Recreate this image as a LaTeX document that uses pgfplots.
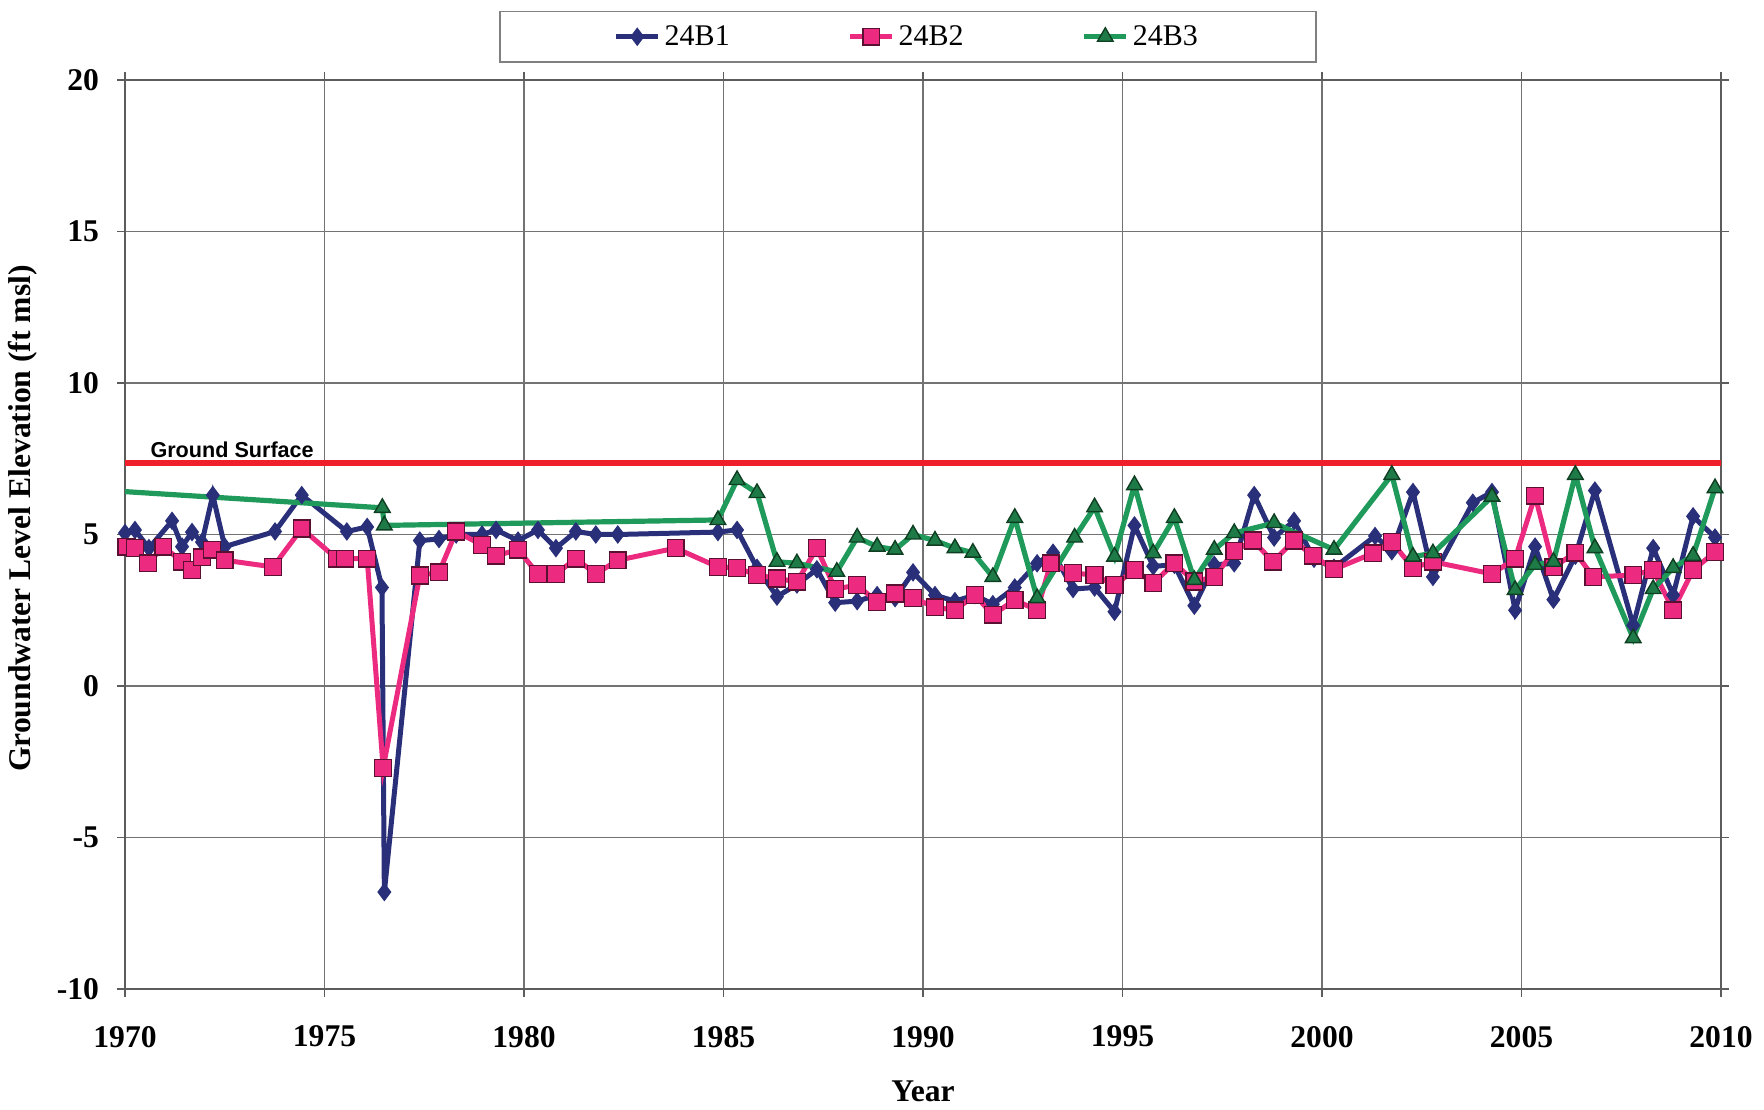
\documentclass[border=0pt]{standalone}
\usepackage{fontspec}
\setmainfont{Liberation Serif}
\newfontfamily\arialfont{Liberation Sans}
\usepackage{pgfplots}
\pgfplotsset{compat=1.18}
\definecolor{navyc}{HTML}{2A2F7A}
\definecolor{pinkc}{HTML}{EC2A7F}
\definecolor{pinkd}{HTML}{5A1030}
\definecolor{greenc}{HTML}{1F9A5A}
\definecolor{greenf}{HTML}{1E7A46}
\definecolor{greend}{HTML}{0F3F22}
\definecolor{gridc}{RGB}{115,115,115}
\definecolor{redc}{HTML}{F01E2A}
\begin{document}
\begin{tikzpicture}
\begin{axis}[
  at={(0,0)}, anchor=south west,
  width=798bp, height=454.5bp, scale only axis,
  xmin=1970, xmax=2010, ymin=-10, ymax=20,
  xtick={1970,1975,...,2010}, ytick={-10,-5,...,20},
  grid=major, major grid style={gridc, line width=0.7bp},
  axis line style={gridc!80!black, line width=0.9bp},
  tick align=outside, major tick length=4bp, tick style={gridc!80!black, line width=0.9bp},
  /pgf/number format/1000 sep={}, /pgf/number format/assume math mode=true,
  ticklabel style={font=\fontsize{15.8bp}{18bp}\selectfont\bfseries},
  xticklabel style={yshift=-11bp},
  yticklabel style={xshift=-5.5bp},
  xlabel={Year}, ylabel={Groundwater Level Elevation (ft msl)},
  label style={font=\fontsize{15.8bp}{18bp}\selectfont\bfseries},
  xlabel style={at={(axis description cs:0.5,-0.1122)}, anchor=center},
  ylabel style={at={(axis description cs:-0.0639,0.5176)}, anchor=center},
  legend columns=3,
  legend style={at={(axis description cs:0.4905,1)}, anchor=south, yshift=8.5bp,
    draw=gray, line width=0.8bp, font=\fontsize{15bp}{18bp}\selectfont,
    inner xsep=57bp, inner ysep=5bp,
    /tikz/every even column/.append style={column sep=57bp}},
  legend image code/.code={\draw[mark repeat=2,mark phase=2] plot coordinates {(0bp,0bp) (10.5bp,0bp) (21bp,0bp)};},
]
\addplot[redc, line width=3bp, forget plot] coordinates {(1970,7.35) (2010,7.35)};
\node[anchor=west, inner sep=0pt, font=\arialfont\bfseries\fontsize{10.8bp}{12bp}\selectfont] at (axis cs:1970.63,7.8) {Ground Surface};

\addplot[navyc, line width=2.5bp, mark=diamond*, mark size=4.2bp, mark options={fill=navyc, draw=navyc, line width=0.6bp}] coordinates {
(1970.0,5.05) (1970.25,5.15) (1970.6,4.55) (1971.18,5.45) (1971.43,4.6) (1971.68,5.08) (1971.93,4.75) (1972.2,6.3) (1972.5,4.6) (1973.76,5.1) (1974.43,6.3) (1975.56,5.1) (1976.07,5.25) (1976.44,3.25) (1976.5,-6.8) (1977.39,4.8) (1977.87,4.85) (1978.3,5.0) (1978.95,5.0) (1979.3,5.15) (1979.85,4.8) (1980.35,5.15) (1980.8,4.55) (1981.3,5.1) (1981.8,5.0) (1982.35,5.0) (1984.86,5.08) (1985.34,5.15) (1985.84,3.9) (1986.34,2.95) (1986.84,3.35) (1987.34,3.85) (1987.8,2.75) (1988.35,2.8) (1988.85,3.0) (1989.3,2.9) (1989.75,3.75) (1990.3,3.0) (1990.8,2.8) (1991.3,3.0) (1991.75,2.7) (1992.3,3.25) (1992.86,4.05) (1993.26,4.4) (1993.76,3.2) (1994.3,3.25) (1994.8,2.45) (1995.3,5.3) (1995.77,3.95) (1996.3,4.0) (1996.8,2.65) (1997.3,4.0) (1997.8,4.05) (1998.3,6.3) (1998.8,4.9) (1999.3,5.45) (1999.8,4.2) (2000.3,3.9) (2001.33,4.95) (2001.75,4.45) (2002.28,6.4) (2002.78,3.6) (2003.78,6.05) (2004.26,6.4) (2004.84,2.5) (2005.34,4.6) (2005.8,2.85) (2006.35,4.3) (2006.84,6.45) (2007.8,2.0) (2008.3,4.55) (2008.8,3.0) (2009.3,5.6) (2009.85,4.9)
};
\addlegendentry{24B1}

\addplot[pinkc, line width=2.5bp, mark=square*, mark size=4.2bp, mark options={fill=pinkc, draw=pinkd, line width=0.7bp}] coordinates {
(1970.04,4.6) (1970.25,4.55) (1970.58,4.05) (1970.96,4.6) (1971.43,4.1) (1971.68,3.83) (1971.93,4.25) (1972.18,4.5) (1972.5,4.15) (1973.71,3.93) (1974.43,5.2) (1975.31,4.2) (1975.51,4.2) (1976.07,4.2) (1976.47,-2.7) (1977.39,3.65) (1977.87,3.75) (1978.3,5.1) (1978.95,4.65) (1979.3,4.3) (1979.85,4.5) (1980.35,3.7) (1980.8,3.7) (1981.3,4.2) (1981.8,3.7) (1982.35,4.15) (1983.8,4.55) (1984.86,3.93) (1985.34,3.9) (1985.84,3.66) (1986.34,3.55) (1986.84,3.44) (1987.34,4.55) (1987.8,3.2) (1988.35,3.33) (1988.85,2.77) (1989.3,3.05) (1989.75,2.9) (1990.3,2.6) (1990.8,2.5) (1991.3,3.0) (1991.75,2.35) (1992.3,2.84) (1992.86,2.5) (1993.2,4.05) (1993.76,3.73) (1994.3,3.66) (1994.8,3.33) (1995.3,3.83) (1995.77,3.4) (1996.3,4.05) (1996.8,3.45) (1997.3,3.6) (1997.8,4.45) (1998.27,4.8) (1998.77,4.1) (1999.3,4.8) (1999.77,4.3) (2000.3,3.85) (2001.28,4.38) (2001.75,4.75) (2002.28,3.9) (2002.78,4.1) (2004.26,3.7) (2004.84,4.2) (2005.34,6.28) (2005.8,3.92) (2006.35,4.4) (2006.8,3.6) (2007.8,3.66) (2008.3,3.83) (2008.8,2.5) (2009.3,3.83) (2009.85,4.42)
};
\addlegendentry{24B2}

\addplot[greenc, line width=2.6bp, mark=triangle*, mark size=4.5bp, mark options={fill=greenf, draw=greend, line width=0.7bp}] coordinates {
(1965,6.83) (1976.45,5.88) (1976.5,5.3) (1984.86,5.48) (1985.34,6.8) (1985.84,6.37) (1986.34,4.1) (1986.84,4.05) (1987.84,3.77) (1988.35,4.9) (1988.85,4.6) (1989.3,4.5) (1989.75,5.0) (1990.3,4.8) (1990.8,4.55) (1991.25,4.4) (1991.75,3.6) (1992.3,5.55) (1992.86,2.9) (1993.8,4.9) (1994.3,5.9) (1994.8,4.27) (1995.3,6.63) (1995.77,4.38) (1996.3,5.55) (1996.8,3.5) (1997.3,4.5) (1997.8,5.05) (1998.8,5.38) (2000.3,4.5) (2001.75,6.97) (2002.28,4.27) (2002.78,4.38) (2004.26,6.25) (2004.84,3.17) (2005.34,4.0) (2005.8,4.1) (2006.35,6.97) (2006.84,4.55) (2007.8,1.58) (2008.3,3.2) (2008.8,3.9) (2009.3,4.3) (2009.85,6.53)
};
\addlegendentry{24B3}
\end{axis}
\pgfresetboundingbox
\path[use as bounding box] (-62.5bp,-60.5bp) rectangle (819.5bp,494.5bp);
\end{tikzpicture}
\end{document}
